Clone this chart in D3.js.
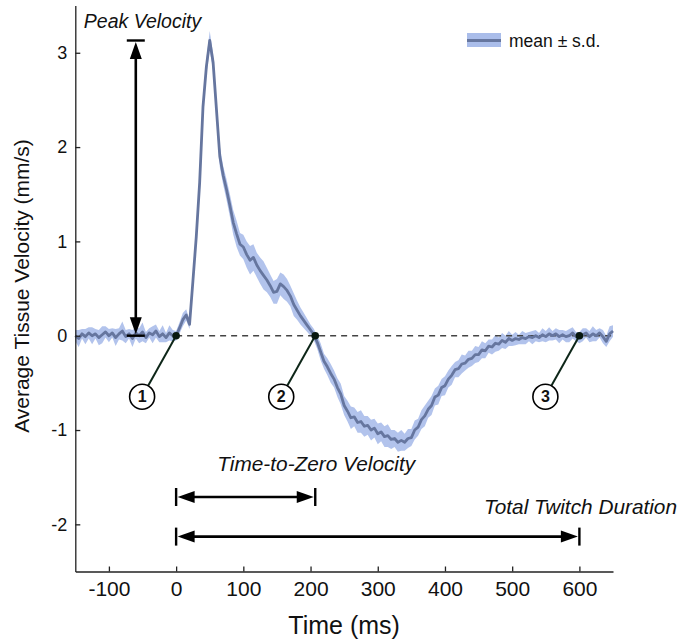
<!DOCTYPE html>
<html>
<head>
<meta charset="utf-8">
<script src="https://cdn.jsdelivr.net/npm/d3@7"></script>
<style>
    body { margin: 0; background: #fff; }
    svg text { font-family: "Liberation Sans", Arial, Helvetica, sans-serif; fill: #111; }
</style>
</head>
<body>
<svg id="chart" width="678" height="641"></svg>
<script>
const TIME = [
    -150,-145,-140,-135,-130,-125,-120,-115,-110,-105,-100,-95,-90,-85,-80,-75,-70,-65,-60,-55,
    -50,-45,-40,-35,-30,-25,-20,-15,-10,-5,
    0,5,10,15,20,25,30,35,40,45, 50,55,60,65,70,75,80,85,90,95,
    100,105,110,115,120,125,130,135,140,145, 150,155,160,165,170,175,180,185,190,195,
    200,205,210,215,220,225,230,235,240,245, 250,255,260,265,270,275,280,285,290,295,
    300,305,310,315,320,325,330,335,340,345, 350,355,360,365,370,375,380,385,390,395,
    400,405,410,415,420,425,430,435,440,445, 450,455,460,465,470,475,480,485,490,495,
    500,505,510,515,520,525,530,535,540,545, 550,555,560,565,570,575,580,585,590,595,
    600,605,610,615,620,625,630,635,640,645,650
];

// mean tissue velocity (mm/s)
const MEAN = [
    0.00,-0.03,0.02,-0.01,0.03,0.00,0.02,-0.02,0.01,0.04,0.00,0.03,-0.02,0.02,0.05,-0.01,0.02,-0.03,0.03,0.00,
    0.04,-0.02,0.03,0.01,0.05,-0.01,0.02,-0.02,0.03,0.00,
    0.00,0.08,0.17,0.22,0.12,0.58,1.05,1.62,2.43,2.85, 3.13,2.90,2.40,1.90,1.70,1.55,1.38,1.20,1.08,0.97,
    0.94,0.86,0.80,0.83,0.75,0.69,0.64,0.59,0.53,0.46, 0.47,0.55,0.52,0.48,0.42,0.33,0.27,0.21,0.16,0.11,
    0.06,0.01,-0.07,-0.17,-0.27,-0.33,-0.40,-0.46,-0.55,-0.62, -0.74,-0.80,-0.87,-0.86,-0.92,-0.91,-0.96,-0.95,-1.00,-0.98,
    -1.04,-1.02,-1.07,-1.06,-1.10,-1.09,-1.13,-1.11,-1.13,-1.09, -1.08,-1.00,-0.97,-0.89,-0.85,-0.78,-0.74,-0.65,-0.63,-0.55,
    -0.53,-0.46,-0.42,-0.36,-0.35,-0.30,-0.29,-0.25,-0.24,-0.20, -0.20,-0.15,-0.16,-0.11,-0.12,-0.08,-0.09,-0.05,-0.07,-0.03,
    -0.05,-0.03,-0.04,-0.02,-0.03,-0.01,-0.02,0.00,-0.02,0.01, -0.01,0.02,0.00,0.02,-0.01,0.01,-0.01,0.00,0.03,-0.01,
    -0.02,0.01,0.03,-0.01,0.02,0.00,0.03,-0.01,-0.06,0.02,0.05
];

// standard deviation (mm/s)
const SD = [
    0.06,0.09,0.05,0.08,0.06,0.09,0.05,0.08,0.09,0.06,0.07,0.05,0.09,0.06,0.10,0.07,0.05,0.09,0.06,0.08,
    0.10,0.06,0.05,0.09,0.07,0.06,0.09,0.05,0.08,0.06,
    0.05,0.06,0.07,0.06,0.05,0.06,0.06,0.06,0.07,0.08, 0.10,0.09,0.09,0.11,0.10,0.11,0.12,0.13,0.14,0.12,
    0.13,0.14,0.15,0.14,0.13,0.14,0.15,0.13,0.12,0.12, 0.13,0.12,0.13,0.12,0.11,0.12,0.10,0.09,0.08,0.07,
    0.06,0.06,0.07,0.09,0.08,0.09,0.10,0.09,0.10,0.11, 0.10,0.11,0.12,0.10,0.11,0.12,0.11,0.10,0.11,0.10,
    0.11,0.10,0.11,0.12,0.10,0.09,0.10,0.11,0.09,0.10, 0.09,0.10,0.09,0.10,0.11,0.09,0.10,0.09,0.10,0.09,
    0.10,0.09,0.10,0.08,0.09,0.10,0.08,0.09,0.08,0.09, 0.08,0.09,0.08,0.07,0.08,0.09,0.07,0.08,0.07,0.08,
    0.06,0.07,0.05,0.07,0.06,0.05,0.07,0.06,0.05,0.07, 0.06,0.07,0.05,0.06,0.07,0.05,0.06,0.07,0.06,0.05,
    0.06,0.07,0.05,0.06,0.08,0.06,0.05,0.07,0.06,0.08,0.06
];

const X_TICKS = [-100, 0, 100, 200, 300, 400, 500, 600];
const X_TICK_LABELS = ["-100", "0", "100", "200", "300", "400", "500", "600"];
const Y_TICKS = [-2, -1, 0, 1, 2, 3];
const Y_TICK_LABELS = ["-2", "-1", "0", "1", "2", "3"];

// annotation values
const MARKERS = [{label: "1", t: 0}, {label: "2", t: 207}, {label: "3", t: 600}];
const PEAK_ARROW_T = -60;
const TTZ_RANGE = [0, 207], TTZ_LEVEL = -1.71;
const TOTAL_RANGE = [0, 600], TOTAL_LEVEL = -2.13;

const BAND_COLOR = "#aabdea";
const LINE_COLOR = "#66769f";
const AXIS_COLOR = "#222";

const svg = d3.select("#chart");
const x = d3.scaleLinear().domain([-150, 650]).range([75.3, 613]);
const y = d3.scaleLinear().domain([-2.5, 3.5]).range([571.5, 5.6]);

const rows = TIME.map((t, i) => ({t, m: MEAN[i], s: SD[i]}));

// sd band
const area = d3.area()
    .x(d => x(d.t))
    .y0(d => y(d.m - d.s))
    .y1(d => y(d.m + d.s));
svg.append("path")
    .datum(rows)
    .attr("d", area)
    .attr("fill", BAND_COLOR)
    .attr("opacity", 0.9);

// zero line
svg.append("line")
    .attr("x1", x(0)).attr("x2", x(650))
    .attr("y1", y(0)).attr("y2", y(0))
    .attr("stroke", "#444")
    .attr("stroke-width", 1.5)
    .attr("stroke-dasharray", "6,5");

// mean line
const line = d3.line().x(d => x(d.t)).y(d => y(d.m));
svg.append("path")
    .datum(rows)
    .attr("d", line)
    .attr("fill", "none")
    .attr("stroke", LINE_COLOR)
    .attr("stroke-width", 2.8)
    .attr("stroke-linejoin", "round");

// axes
let xAxis = d3.axisBottom(x)
    .tickValues(X_TICKS)
    .tickFormat((d, i) => X_TICK_LABELS[i])
    .tickSizeInner(-5)
    .tickSizeOuter(0)
    .tickPadding(10);
let gx = svg.append("g")
    .attr("transform", `translate(0,${y(-2.5)})`)
    .call(xAxis);
gx.selectAll("text").style("font-size", "21px");

let yAxis = d3.axisLeft(y)
    .tickValues(Y_TICKS)
    .tickFormat((d, i) => Y_TICK_LABELS[i])
    .tickSizeInner(-5)
    .tickSizeOuter(0)
    .tickPadding(8);
let gy = svg.append("g")
    .attr("transform", `translate(${x(-150)},0)`)
    .call(yAxis);
gy.selectAll("text").style("font-size", "18px");

[gx, gy].forEach(g => {
    g.selectAll("path.domain, .tick line")
        .attr("stroke", AXIS_COLOR)
        .attr("stroke-width", 1.3);
    g.selectAll("text").attr("fill", "#111");
});

svg.append("text")
    .attr("x", (x(-150) + x(650)) / 2)
    .attr("y", 634)
    .attr("text-anchor", "middle")
    .style("font-size", "25px")
    .text("Time (ms)");

svg.append("text")
    .attr("transform", `translate(29,${286}) rotate(-90)`)
    .attr("text-anchor", "middle")
    .style("font-size", "21px")
    .text("Average Tissue Velocity (mm/s)");

// arrow helpers
function head(tipX, tipY, dx, dy){
    // dx,dy unit direction the arrow points
    let len = 17, hw = 6;
    let bx = tipX - dx * len, by = tipY - dy * len;
    let px = -dy * hw, py = dx * hw;
    return `M${tipX},${tipY}L${bx + px},${by + py}L${bx - px},${by - py}Z`;
}

function hArrow(range, level){
    let x0 = x(range[0]), x1 = x(range[1]), yy = y(level);
    let g = svg.append("g");
    g.append("line")
        .attr("x1", x0 + 10).attr("x2", x1 - 10)
        .attr("y1", yy).attr("y2", yy)
        .attr("stroke", "#000").attr("stroke-width", 2.6);
    g.append("path").attr("d", head(x0 + 1.5, yy, -1, 0)).attr("fill", "#000");
    g.append("path").attr("d", head(x1 - 1.5, yy, 1, 0)).attr("fill", "#000");
    [x0, x1].forEach(xx => {
        g.append("line")
            .attr("x1", xx).attr("x2", xx)
            .attr("y1", yy - 9).attr("y2", yy + 9)
            .attr("stroke", "#000").attr("stroke-width", 2.4);
    });
}

// peak velocity arrow
let peak = d3.max(MEAN);
let px = x(PEAK_ARROW_T), yTop = y(peak), yBot = y(0);
svg.append("line")
    .attr("x1", px).attr("x2", px)
    .attr("y1", yTop + 10).attr("y2", yBot - 10)
    .attr("stroke", "#000").attr("stroke-width", 2.6);
svg.append("path").attr("d", head(px, yTop + 1.5, 0, -1)).attr("fill", "#000");
svg.append("path").attr("d", head(px, yBot - 1.5, 0, 1)).attr("fill", "#000");
[yTop, yBot].forEach(yy => {
    svg.append("line")
        .attr("x1", px - 9).attr("x2", px + 9)
        .attr("y1", yy).attr("y2", yy)
        .attr("stroke", "#000").attr("stroke-width", 2.4);
});
svg.append("text")
    .attr("x", px - 52)
    .attr("y", 28)
    .style("font-size", "19.5px")
    .style("font-style", "italic")
    .text("Peak Velocity");

hArrow(TTZ_RANGE, TTZ_LEVEL);
hArrow(TOTAL_RANGE, TOTAL_LEVEL);

svg.append("text")
    .attr("x", x(TTZ_RANGE[1]) + 1)
    .attr("y", 471)
    .attr("text-anchor", "middle")
    .style("font-size", "20.8px")
    .style("font-style", "italic")
    .text("Time-to-Zero Velocity");

svg.append("text")
    .attr("x", 677)
    .attr("y", 514)
    .attr("text-anchor", "end")
    .style("font-size", "20.8px")
    .style("font-style", "italic")
    .text("Total Twitch Duration");

// numbered markers
let mk = svg.selectAll("g.marker")
    .data(MARKERS)
    .enter().append("g")
    .attr("class", "marker")
    .attr("transform", d => `translate(${x(d.t)},${y(0)})`);
mk.append("line")
    .attr("x1", 0).attr("y1", 0)
    .attr("x2", -28).attr("y2", 50)
    .attr("stroke", "#0d2618").attr("stroke-width", 2);
mk.append("circle")
    .attr("r", 3.8)
    .attr("fill", "#08180f");
mk.append("circle")
    .attr("cx", -34).attr("cy", 61)
    .attr("r", 12.5)
    .attr("fill", "#fff")
    .attr("stroke", "#000")
    .attr("stroke-width", 1.6);
mk.append("text")
    .attr("x", -34).attr("y", 61)
    .attr("dy", "0.36em")
    .attr("text-anchor", "middle")
    .style("font-size", "16px")
    .style("font-weight", "bold")
    .text(d => d.label);

// legend
let lg = svg.append("g").attr("transform", "translate(467,33)");
lg.append("rect")
    .attr("width", 34).attr("height", 14)
    .attr("fill", BAND_COLOR);
lg.append("line")
    .attr("x1", 0).attr("x2", 34)
    .attr("y1", 7.5).attr("y2", 7.5)
    .attr("stroke", LINE_COLOR).attr("stroke-width", 3);
lg.append("text")
    .attr("x", 42).attr("y", 13.5)
    .style("font-size", "17.5px")
    .text("mean \u00b1 s.d.");
</script>
</body>
</html>
